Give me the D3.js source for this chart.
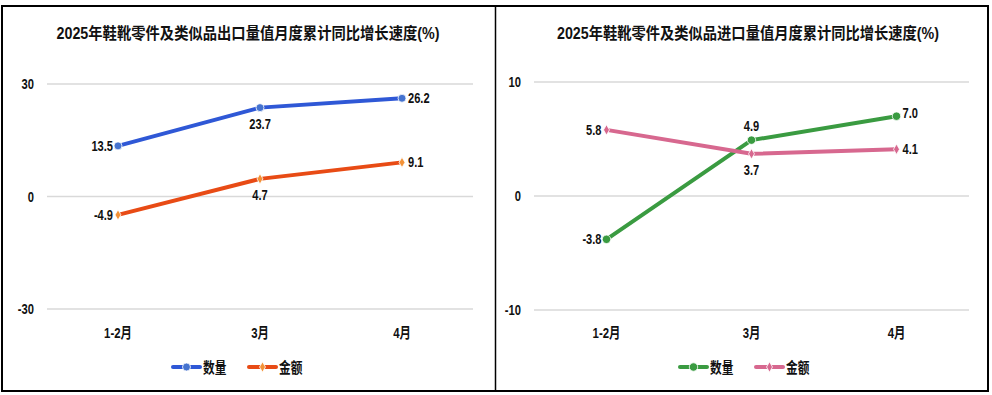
<!DOCTYPE html>
<html><head><meta charset="utf-8">
<script src="https://cdn.jsdelivr.net/npm/d3@7"></script>
<style>
html,body{margin:0;padding:0;background:#fff;}
svg text{font-family:"Liberation Sans","Noto Sans CJK SC",sans-serif;font-weight:bold;fill:#111;}
</style></head>
<body><svg id="c" width="992" height="395"></svg>
<script>
const categories = ["1-2月", "3月", "4月"];
const seriesNames = ["数量", "金额"];
const exportQty = [13.5, 23.7, 26.2];
const exportValue = [-4.9, 4.7, 9.1];
const importQty = [-3.8, 4.9, 7.0];
const importValue = [5.8, 3.7, 4.1];
const exportTicks = [-30, 0, 30];
const importTicks = [-10, 0, 10];
const exportTitle = "2025年鞋靴零件及类似品出口量值月度累计同比增长速度(%)";
const importTitle = "2025年鞋靴零件及类似品进口量值月度累计同比增长速度(%)";

const svg = d3.select("#c");
svg.append("rect").attr("x",2).attr("y",6).attr("width",986).attr("height",385)
  .attr("fill","#fff").attr("stroke","#000").attr("stroke-width",2);
svg.append("line").attr("x1",495.5).attr("x2",495.5).attr("y1",6).attr("y2",391)
  .attr("stroke","#000").attr("stroke-width",1.5);

function txt(g,x,y,s,size,anchor,sx){
  return g.append("text").attr("transform",`translate(${x},${y}) scale(${sx},1)`)
    .attr("text-anchor",anchor).attr("font-size",size).text(s);
}

function panel(o){
  const g = svg.append("g");
  const x = d3.scalePoint().domain(categories).range([o.x0,o.x1]).padding(0.5);
  const y = d3.scaleLinear().domain([o.ticks[0],o.ticks[2]]).range([o.yb,o.yt]);
  g.append("text").attr("x",o.tx).attr("y",39).attr("text-anchor","middle")
    .attr("font-size",16).attr("textLength",o.tw).attr("lengthAdjust","spacingAndGlyphs").text(o.title);
  g.selectAll(".grid").data(o.ticks).join("line")
    .attr("x1",o.x0).attr("x2",o.x1).attr("y1",d=>y(d)).attr("y2",d=>y(d))
    .attr("stroke","#d9d9d9").attr("stroke-width",1.5);
  o.ticks.forEach(t=>txt(g,o.ylx,y(t)+5,String(t),14,"end",0.8));
  categories.forEach(c=>txt(g,x(c),338,c,15,"middle",0.76));
  const line = d3.line().x((d,i)=>x(categories[i])).y(d=>y(d));
  o.series.forEach((s,si)=>{
    g.append("path").datum(s.values).attr("d",line).attr("fill","none")
      .attr("stroke",s.color).attr("stroke-width",4).attr("stroke-linejoin","round").attr("stroke-linecap","round");
    s.values.forEach((v,i)=>{
      const px=x(categories[i]), py=y(v);
      marker(g,px,py,s);
      const pos=s.labels[i];
      let lx=px, ly=py+5, anchor="middle";
      if(pos==="l"){lx=px-5;anchor="end";}
      else if(pos==="r"){lx=px+6;anchor="start";}
      else if(pos==="ra"){lx=px+6;anchor="start";ly=py+2;}
      else if(pos==="b"){ly=py+21;}
      else if(pos==="a"){ly=py-9;}
      txt(g,lx,ly,v.toFixed(1),15,anchor,0.74);
    });
    const lx0=o.legX[si];
    g.append("line").attr("x1",lx0).attr("x2",lx0+27).attr("y1",367).attr("y2",367)
      .attr("stroke",s.color).attr("stroke-width",4).attr("stroke-linecap","round");
    marker(g,lx0+13.5,367,s);
    txt(g,lx0+30,372.5,seriesNames[si],15,"start",0.78);
  });
}
function marker(g,px,py,s){
  if(s.shape==="circle"){
    g.append("circle").attr("cx",px).attr("cy",py).attr("r",s.r).attr("fill",s.mcolor).attr("stroke","#fff").attr("stroke-width",0.8);
  } else {
    g.append("path").attr("d",d3.symbol(d3.symbolDiamond,s.r*s.r*3)()).attr("transform",`translate(${px},${py})`)
      .attr("fill",s.mcolor).attr("stroke","#fff").attr("stroke-width",0.8);
  }
}

panel({x0:47,x1:473,yt:84,yb:309,ticks:exportTicks,ylx:34,tx:248,tw:383,title:exportTitle,legX:[173,249],
  series:[
    {values:exportQty,color:"#2F58D6",mcolor:"#4573CF",shape:"circle",r:4,labels:["l","b","r"]},
    {values:exportValue,color:"#E84B15",mcolor:"#F39237",shape:"diamond",r:3.2,labels:["l","b","r"]}
  ]});
panel({x0:534,x1:969,yt:82,yb:310,ticks:importTicks,ylx:521,tx:748,tw:382,title:importTitle,legX:[680,756],
  series:[
    {values:importQty,color:"#3A9B41",mcolor:"#3A9B41",shape:"circle",r:4.2,labels:["l","a","ra"]},
    {values:importValue,color:"#D7688F",mcolor:"#D7688F",shape:"diamond",r:3.2,labels:["l","b","r"]}
  ]});
</script></body></html>
